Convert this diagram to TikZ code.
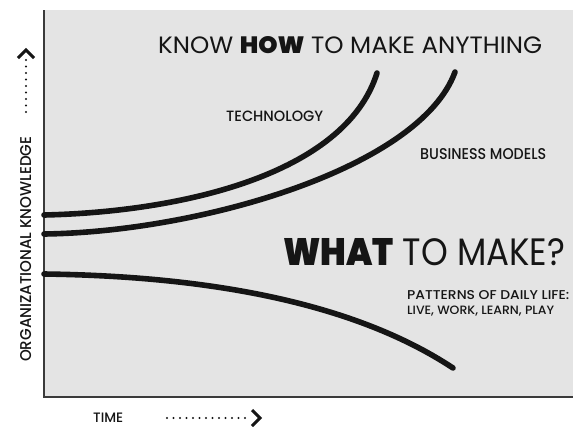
\documentclass[tikz,border=0pt]{standalone}
\usepackage{fontspec}
\setmainfont{Poppins}[BoldFont={Poppins Black}]
\newfontfamily\medfont{Poppins Medium}
\usepackage{graphicx}
\usetikzlibrary{calc}
\definecolor{panel}{HTML}{E4E4E4}
\definecolor{axisgray}{HTML}{3A3A3A}
\definecolor{ink}{HTML}{151515}
% set a caps label to an exact width and cap height
\newcommand\capsbox[3]{\resizebox{#1}{#2}{#3}}
\begin{document}
\begin{tikzpicture}[x=1pt,y=-1pt,
  curve/.style={line width=5.6pt,ink,line cap=round},
  label/.style={inner sep=0pt,anchor=base west,text=ink},
  small/.style={label,font=\medfont},
  chevron/.style={line width=3pt,ink,line cap=butt,line join=miter}]
  \useasboundingbox (0,0) rectangle (573,426);
  \fill[white] (0,0) rectangle (573,426);
  % chart panel and axes
  \fill[panel] (44,10) rectangle (573,397);
  \draw[axisgray,line width=1.6pt] (44,10) -- (44,397) -- (573,397);

  % curve end points
  \coordinate (t0) at (44,215);  \coordinate (t1) at (377,73);
  \coordinate (b0) at (44,234);  \coordinate (b1) at (455,72);
  \coordinate (p0) at (44,274);  \coordinate (p1) at (453,368);

  % technology, business models, patterns of daily life
  \draw[curve] (t0) .. controls (180,212) and (345,175) .. (t1);
  \draw[curve] (b0) .. controls (200,232) and (420,168) .. (b1);
  \draw[curve] (p0) .. controls (200,276) and (350,300) .. (p1);

  % labels
  \node[label] (know) at (158,53) {\capsbox{384pt}{17pt}{KNOW \textbf{HOW} TO MAKE ANYTHING}};
  \node[small] (tech) at (226,121) {\capsbox{97pt}{10.5pt}{TECHNOLOGY}};
  \node[small] (biz) at (420,159) {\capsbox{126pt}{11pt}{BUSINESS MODELS}};
  \node[label] (what) at (283,265) {\capsbox{282pt}{27pt}{\textbf{WHAT} TO MAKE?}};
  \node[small] (daily) at (407,299) {\capsbox{162pt}{9pt}{PATTERNS OF DAILY LIFE:}};
  \node[small] (live) at (407,314) {\capsbox{147pt}{8.5pt}{LIVE, WORK, LEARN, PLAY}};
  \node[small] (time) at (93,422) {\capsbox{30pt}{9.5pt}{TIME}};
  \node[small,rotate=90] (org) at (31,362) {\capsbox{225pt}{11pt}{ORGANIZATIONAL KNOWLEDGE}};

  % axis direction arrows: dotted shafts with chevron heads
  \coordinate (ha) at (167,418); \coordinate (hb) at (260,418);
  \foreach \i in {0,...,12} \fill[ink] ($(ha)+(6.5*\i,0)$) circle (1.15pt);
  \draw[chevron] ($(hb)+(-8,-8)$) -- (hb) -- ($(hb)+(-8,8)$);
  \coordinate (va) at (26,112); \coordinate (vb) at (26,50);
  \foreach \i in {0,...,8} \fill[ink] ($(va)+(0,-6.5*\i)$) circle (1.15pt);
  \draw[chevron] ($(vb)+(-8,8)$) -- (vb) -- ($(vb)+(8,8)$);
\end{tikzpicture}
\end{document}
